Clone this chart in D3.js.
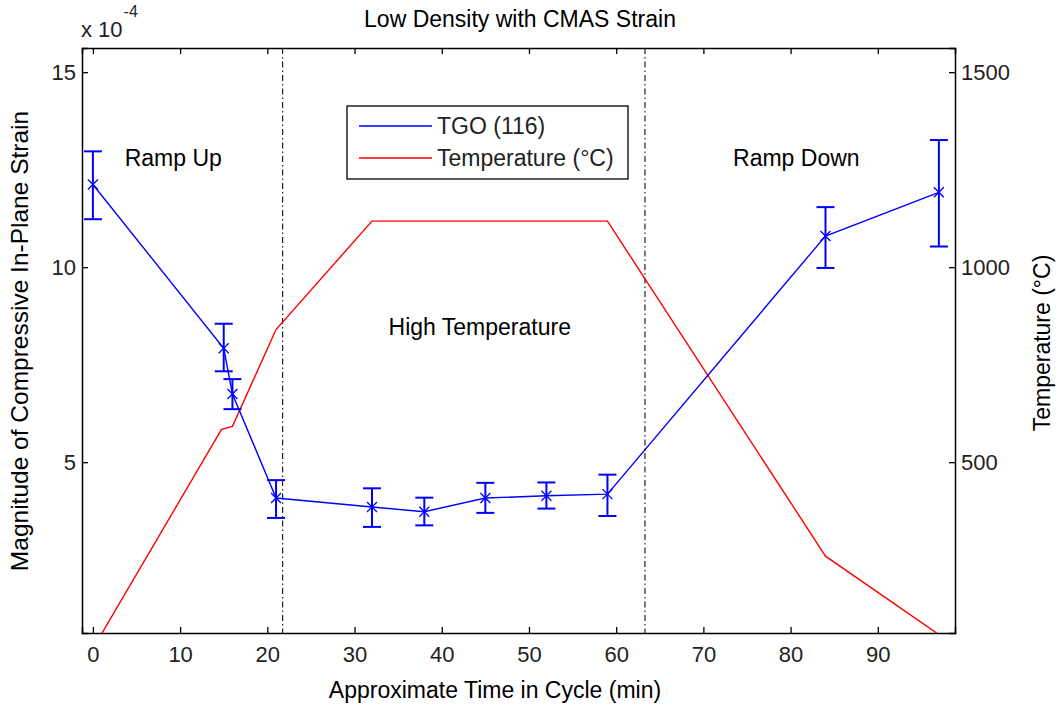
<!DOCTYPE html>
<html><head><meta charset="utf-8">
<script src="https://cdn.jsdelivr.net/npm/d3@7"></script>
<style>body{margin:0;background:#fff}svg{display:block;font-family:Arial,"Liberation Sans",sans-serif}</style>
</head><body><div id="chart"></div>
<script>
// TGO (116) strain, units of 1e-4
const tgoTime = [0, 15, 16, 21, 32, 38, 45, 52, 59, 84, 97];
const tgoStrain = [12.12, 7.92, 6.75, 4.08, 3.85, 3.73, 4.08, 4.14, 4.18, 10.8, 11.92];
const tgoErrLow = [11.23, 7.33, 6.36, 3.57, 3.34, 3.38, 3.70, 3.81, 3.62, 9.98, 10.53];
const tgoErrHigh = [12.97, 8.55, 7.13, 4.54, 4.33, 4.09, 4.47, 4.48, 4.68, 11.54, 13.26];
// Temperature (°C)
const tempTime = [0, 14.75, 16, 21, 32, 59, 84, 97];
const tempValue = [22, 584, 592, 840, 1118, 1118, 259, 58];
// Phase boundaries (min)
const phaseLines = [21.75, 63.3];
const xTicks = [0, 10, 20, 30, 40, 50, 60, 70, 80, 90];
const yLeftTicks = [5, 10, 15];
const yRightTicks = [500, 1000, 1500];
const annotations = [
  {text: "Ramp Up", t: 3.65, v: 12.6},
  {text: "High Temperature", t: 33.9, v: 8.27},
  {text: "Ramp Down", t: 73.4, v: 12.6}
];
const legendItems = [{label: "TGO (116)", color: "#0000ff"}, {label: "Temperature (°C)", color: "#ff0000"}];

const W = 1061, H = 714;
const L = 82, R = 955, T = 48, B = 633;
const svg = d3.select("#chart").append("svg").attr("width", W).attr("height", H);

const x = d3.scaleLinear().domain([-1.25, 98.85]).range([L, R]);
const yL = d3.scaleLinear().domain([0.62, 15.62]).range([B, T]);
const yR = d3.scaleLinear().domain([62, 1562]).range([B, T]);

svg.append("defs").append("clipPath").attr("id", "clip")
  .append("rect").attr("x", L).attr("y", T).attr("width", R - L).attr("height", B - T);

const tickFont = "22px";
// Axes
const axB = svg.append("g").attr("transform", `translate(0,${B})`)
  .call(d3.axisBottom(x).tickValues(xTicks).tickSize(-6).tickPadding(13).tickFormat(d3.format("d")));
const axT = svg.append("g").attr("transform", `translate(0,${T})`)
  .call(d3.axisTop(x).tickValues(xTicks).tickSize(-6).tickFormat(""));
const axL = svg.append("g").attr("transform", `translate(${L},0)`)
  .call(d3.axisLeft(yL).tickValues(yLeftTicks).tickSize(-6).tickPadding(6).tickFormat(d3.format("d")));
const axR = svg.append("g").attr("transform", `translate(${R},0)`)
  .call(d3.axisRight(yR).tickValues(yRightTicks).tickSize(-6).tickPadding(6).tickFormat(d3.format("d")));
[axB, axT, axL, axR].forEach(a => {
  a.select(".domain").attr("stroke", "#000").attr("stroke-width", 1.5);
  a.selectAll(".tick line").attr("stroke", "#000").attr("stroke-width", 1.3);
  a.selectAll(".tick text").attr("fill", "#222").style("font-size", tickFont).style("font-family", "Arial, 'Liberation Sans', sans-serif");
});

// multiplier
const mult = svg.append("text").attr("x", L - 1).attr("y", 37).attr("fill", "#222").style("font-size", "22px");
mult.append("tspan").text("x 10");
mult.append("tspan").attr("dy", -20).attr("dx", 1).style("font-size", "16px").text("-4");

const plot = svg.append("g").attr("clip-path", "url(#clip)");

// phase lines
plot.selectAll("line.phase").data(phaseLines).enter().append("line")
  .attr("x1", d => x(d)).attr("x2", d => x(d)).attr("y1", T).attr("y2", B)
  .attr("stroke", "#222").attr("stroke-width", 1.2).attr("stroke-dasharray", "6,3,1.5,3");

// temperature line
const tempData = tempTime.map((t, i) => [t, tempValue[i]]);
plot.append("path").datum(tempData)
  .attr("d", d3.line().x(d => x(d[0])).y(d => yR(d[1])))
  .attr("fill", "none").attr("stroke", "#ff0000").attr("stroke-width", 1.4);

// TGO line
const tgo = tgoTime.map((t, i) => ({t, v: tgoStrain[i], lo: tgoErrLow[i], hi: tgoErrHigh[i]}));
plot.append("path").datum(tgo)
  .attr("d", d3.line().x(d => x(d.t)).y(d => yL(d.v)))
  .attr("fill", "none").attr("stroke", "#0000ff").attr("stroke-width", 1.4);

const eb = svg.append("g").attr("stroke", "#0000ff").attr("fill", "none");
const cap = 9;
tgo.forEach(d => {
  const cx = x(d.t);
  eb.append("line").attr("x1", cx).attr("x2", cx).attr("y1", yL(d.lo)).attr("y2", yL(d.hi)).attr("stroke-width", 2);
  eb.append("line").attr("x1", cx - cap).attr("x2", cx + cap).attr("y1", yL(d.lo)).attr("y2", yL(d.lo)).attr("stroke-width", 2);
  eb.append("line").attr("x1", cx - cap).attr("x2", cx + cap).attr("y1", yL(d.hi)).attr("y2", yL(d.hi)).attr("stroke-width", 2);
  const cy = yL(d.v), m = 5;
  eb.append("path").attr("d", `M${cx - m},${cy - m}L${cx + m},${cy + m}M${cx - m},${cy + m}L${cx + m},${cy - m}`).attr("stroke-width", 1.3);
});

// annotations
svg.selectAll("text.ann").data(annotations).enter().append("text")
  .attr("x", d => x(d.t)).attr("y", d => yL(d.v))
  .attr("fill", "#000").style("font-size", "23px").text(d => d.text);

// legend
const lg = svg.append("g");
lg.append("rect").attr("x", 347).attr("y", 106).attr("width", 281).attr("height", 73)
  .attr("fill", "#fff").attr("stroke", "#000").attr("stroke-width", 1.3);
legendItems.forEach((it, i) => {
  const yy = 126 + i * 32;
  lg.append("line").attr("x1", 359).attr("x2", 432).attr("y1", yy).attr("y2", yy).attr("stroke", it.color).attr("stroke-width", 1.4);
  lg.append("text").attr("x", 437).attr("y", yy + 8).attr("fill", "#222").style("font-size", "23px").text(it.label);
});

// title & labels
svg.append("text").attr("x", 520).attr("y", 27).attr("text-anchor", "middle")
  .style("font-size", "23px").attr("fill", "#000").text("Low Density with CMAS Strain");
svg.append("text").attr("x", 495).attr("y", 698).attr("text-anchor", "middle")
  .style("font-size", "23px").attr("fill", "#000").text("Approximate Time in Cycle (min)");
svg.append("text").attr("transform", `translate(28,341) rotate(-90)`).attr("text-anchor", "middle")
  .style("font-size", "24.5px").attr("fill", "#000").text("Magnitude of Compressive In-Plane Strain");
svg.append("text").attr("transform", `translate(1050,343) rotate(-90)`).attr("text-anchor", "middle")
  .style("font-size", "23px").attr("fill", "#000").text("Temperature (°C)");
</script></body></html>
